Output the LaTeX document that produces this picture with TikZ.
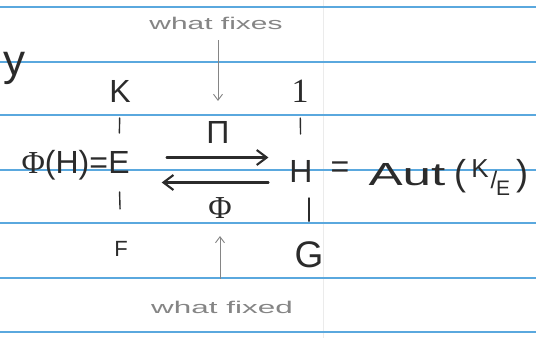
\documentclass[tikz,border=0pt]{standalone}
\usepackage{fontspec}
\setmainfont{Liberation Sans}
\newfontfamily\serifone{Liberation Serif}
\usetikzlibrary{arrows.meta}
\definecolor{ink}{HTML}{2B2B2B}
\definecolor{pencil}{HTML}{858585}
\definecolor{rulecol}{HTML}{5AA8DE}
\definecolor{margincol}{HTML}{EBEBEB}
\tikzset{
 lt/.style={inner sep=0pt, outer sep=0pt, text=ink, font=\fontsize{32}{32}\selectfont, anchor=base},
 note/.style={inner sep=0pt, outer sep=0pt, text=pencil, anchor=base, font=\fontsize{17}{17}\selectfont},
 bar/.style={draw=ink, line width=1.4pt, line cap=round},
 mainarrow/.style={draw=ink, line width=2.3pt, line cap=round, -{Straight Barb[length=10pt,width=15pt,line width=2.1pt]}},
 pencilarrow/.style={draw=pencil, line width=0.9pt, -{Straight Barb[length=6pt,width=9pt]}},
 ruleline/.style={draw=rulecol, line width=1.3pt},
}
\begin{document}
\begin{tikzpicture}[x=1pt,y=-1pt]
\fill[white] (0,0) rectangle (536,338);
\useasboundingbox (0,0) rectangle (536,338);
\clip (0,0) rectangle (536,338);
\draw[margincol, line width=1pt] (323,0) -- (323,338);
\foreach \yy in {7,62,115,170,223,278,332} \draw[ruleline] (0,\yy) -- (536,\yy);

% stray letter from previous line
\node[lt, font=\fontsize{44}{44}\selectfont] (yy) at (15,75) {y};

% notes
\node[note] (wf) at (216,29) {\scalebox{1.76}[1]{what fixes}};
\node[note] (wd) at (222,313) {\scalebox{1.85}[1]{what fixed}};

% left lattice
\node[lt] (K) at (120,102) {K};
\node[lt, anchor=base east] (PhiH) at (108,173) {{\serifone Φ}(H)=};
\node[lt] (E) at (119,173) {E};
\node[lt, font=\fontsize{22}{22}\selectfont] (F) at (121,256) {F};

% right lattice
\node[lt, font=\serifone\fontsize{34}{34}\selectfont] (one) at (300,102) {1};
\node[lt] (H) at (301,182) {H};
\node[lt, font=\fontsize{37}{37}\selectfont] (G) at (309,267) {G};

\node[lt] (eq) at (340,177) {=};
\node[lt] (Aut) at (407,185) {\scalebox{1.6}[1]{Aut}};
\node[lt, font=\fontsize{36}{36}\selectfont] (lp) at (460,185) {(};
\node[lt, font=\fontsize{26}{26}\selectfont] (Ks) at (480,177) {K};
\node[lt, font=\fontsize{24}{24}\selectfont] (sl) at (494,188) {/};
\node[lt, font=\fontsize{21}{21}\selectfont] (Es) at (503,195) {E};
\node[lt, font=\fontsize{36}{36}\selectfont] (rp) at (522,185) {)};

% maps
\node[lt] (Pi) at (218,143) {Π};
\node[lt, font=\serifone\fontsize{32}{32}\selectfont] (Phi) at (220,218) {Φ};

% bars
\draw[bar, shorten <=16pt, shorten >=18pt] (K.south) -- (E.north);
\draw[bar, shorten <=19pt, shorten >=32pt] (E.south) -- (F.north);
\draw[bar, shorten <=16pt, shorten >=26pt] (one.south) -- (H.north);
\draw[bar, shorten <=16pt, shorten >=20pt] (H.south -| G.north) -- (G.north);

% main arrows
\draw[mainarrow, shorten <=37pt, shorten >=21pt] ([yshift=4.5pt]E.east) -- ([yshift=13.5pt]H.west);
\draw[mainarrow, shorten <=21pt, shorten >=32pt] ([yshift=-11.5pt]H.west) -- ([yshift=-20.5pt]E.east);

% pencil arrows
\draw[pencilarrow, shorten <=11pt, shorten >=20pt] (wf.south -| Pi.north) -- (Pi.north);
\draw[pencilarrow, shorten <=22pt, shorten >=18pt] (wd.north -| Phi.south) -- (Phi.south);
\end{tikzpicture}
\end{document}
